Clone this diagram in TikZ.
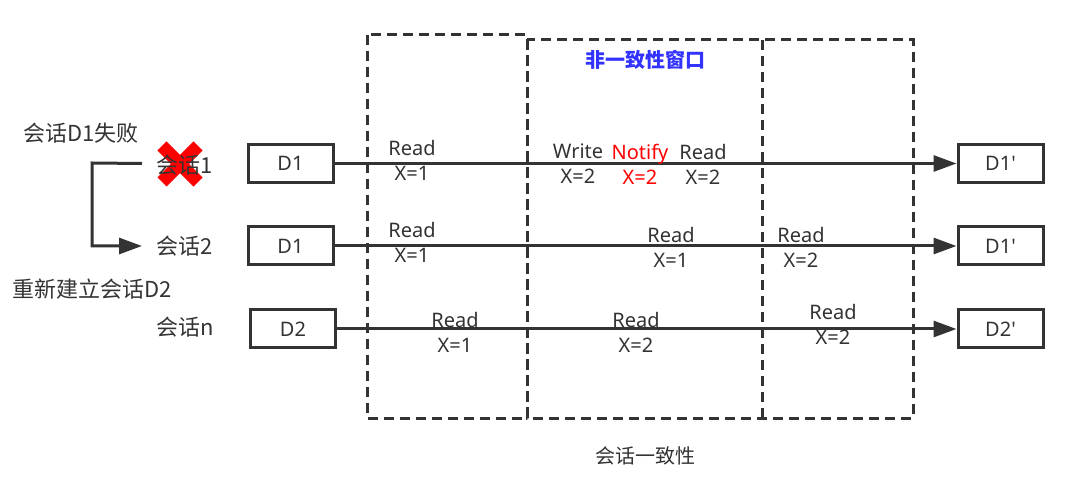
\documentclass[tikz,border=0pt]{standalone}
\usepackage{fontspec}
\setmainfont{Noto Sans}
\newfontfamily\cjk{Noto Sans CJK SC}
\usetikzlibrary{arrows.meta}
\definecolor{tx}{RGB}{51,51,51}
\definecolor{ln}{RGB}{51,51,51}
\definecolor{xred}{RGB}{255,0,0}
\definecolor{wblue}{RGB}{51,51,255}
\begin{document}
\begin{tikzpicture}[x=1pt,y=-1pt,
  every node/.style={font=\fontsize{20}{25}\selectfont, text=tx, inner sep=0pt},
  dbox/.style={draw=ln, line width=3pt, minimum width=85pt, minimum height=38pt},
  lbl/.style={align=center},
  side/.style={font=\fontsize{22}{26}\selectfont\cjk},
  win/.style={draw=ln, line width=3pt, dash pattern=on 10pt off 6pt},
  flow/.style={draw=ln, line width=3pt, -{Triangle[length=23pt,width=16pt]}},
]
\useasboundingbox (0,0) rectangle (1080,481);
% dashed windows
\draw[win] (367,35) rectangle (527,418);
\draw[win] (527,40) rectangle (913,418);
\draw[win] (762,40) -- (762,418);
\node[text=wblue, font=\fontsize{20}{25}\selectfont\cjk\bfseries] (title) at (645,60) {非一致性窗口};
\node[font=\fontsize{20}{25}\selectfont\cjk] (foot) at (645,456) {会话一致性};
% boxes
\node[dbox] (a1) at (290.5,163.5) {D1};
\node[dbox] (a2) at (290.5,246) {D1};
\node[dbox] (a3) at (293,329) {D2};
\node[dbox] (b1) at (1000.5,163.5) {D1\textquotesingle};
\node[dbox] (b2) at (1000.5,246) {D1\textquotesingle};
\node[dbox] (b3) at (1000.5,329) {D2\textquotesingle};
\draw[flow] (a1.east) -- (b1.west);
\draw[flow] (a2.east) -- (b2.west);
\draw[flow] (a3.east) -- (b3.west);
% left side
\draw[xred, line width=13pt] (162,146) -- (198,182);
\draw[xred, line width=13pt] (198,146) -- (162,182);
\node[side] (fail) at (81,133) {会话D1失败};
\node[side, anchor=west] (s1) at (156,165) {会话1};
\node[side, anchor=west] (s2) at (156,246) {会话2};
\node[side] (re) at (92,289) {重新建立会话D2};
\node[side, anchor=west] (sn) at (156,327) {会话n};
\coordinate (elb) at (92,163);
\draw[flow] ([xshift=-14pt]s1.west |- a1.east) -- (elb) |- ([xshift=-14pt]s2.west);
% labels row 1
\node[lbl] (r11) at (412,160) {Read\\X=1};
\node[lbl] (r12) at (578,164) {Write\\X=2};
\node[lbl, text=xred] (r13) at (640,164) {Notify\\X=2};
\node[lbl] (r14) at (703,164) {Read\\X=2};
% row 2
\node[lbl] (r21) at (412,242) {Read\\X=1};
\node[lbl] (r22) at (671,247) {Read\\X=1};
\node[lbl] (r23) at (801,247) {Read\\X=2};
% row 3
\node[lbl] (r31) at (455,332) {Read\\X=1};
\node[lbl] (r32) at (636,332) {Read\\X=2};
\node[lbl] (r33) at (833,324) {Read\\X=2};
\end{tikzpicture}
\end{document}
